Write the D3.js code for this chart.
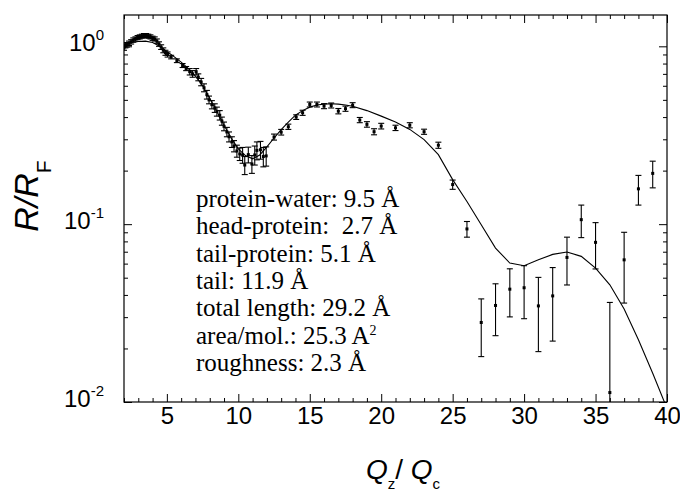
<!DOCTYPE html>
<html>
<head>
<meta charset="utf-8">
<script src="https://cdn.jsdelivr.net/npm/d3@7/dist/d3.min.js"></script>
<style>
  html, body { margin: 0; padding: 0; background: #fff; }
  svg { display: block; }
  .pre { white-space: pre; }
</style>
</head>
<body>
<svg id="chart" width="680" height="492"></svg>
<script>
// Measured reflectivity normalised to Fresnel, R/R_F vs Q_z/Q_c
const qData = [2.0, 2.1, 2.2, 2.35, 2.5, 2.65, 2.8, 2.95, 3.1, 3.25, 3.4, 3.55, 3.7, 3.85, 4.0,
  4.15, 4.3, 4.45, 4.6, 4.75, 4.9, 5.05, 5.3, 5.7, 6.1, 6.35, 6.6, 6.8, 7.05, 7.2, 7.4, 7.6,
  7.8, 7.95, 8.15, 8.35, 8.5, 8.7, 8.85, 9.0, 9.2, 9.35, 9.55, 9.7, 9.9, 10.1, 10.3, 10.45,
  10.7, 10.95, 11.15, 11.3, 11.55, 11.75, 11.95, 12.5, 13.0, 13.5, 14.05, 14.5, 15.0, 15.5,
  16.0, 16.5, 17.0, 17.5, 18.0, 18.5, 19.0, 19.5, 20.0, 21.0, 22.0, 23.0, 24.0, 25.0, 26.0,
  27.0, 28.0, 29.0, 30.0, 31.0, 32.0, 33.0, 34.0, 35.0, 36.0, 37.0, 38.0, 39.0];
const rData = [0.98, 1.01, 1.02, 1.04, 1.06, 1.085, 1.10, 1.12, 1.13, 1.14, 1.15, 1.15, 1.14, 1.13, 1.11,
  1.10, 1.07, 1.03, 0.99, 0.95, 0.92, 0.90, 0.87, 0.83, 0.78, 0.75, 0.72, 0.70, 0.72, 0.67, 0.63, 0.585,
  0.535, 0.50, 0.47, 0.45, 0.43, 0.41, 0.38, 0.355, 0.33, 0.31, 0.29, 0.275, 0.258, 0.248, 0.245, 0.215,
  0.246, 0.218, 0.245, 0.26, 0.262, 0.24, 0.242, 0.309, 0.329, 0.353, 0.40, 0.423, 0.471, 0.471,
  0.461, 0.465, 0.432, 0.446, 0.467, 0.385, 0.364, 0.331, 0.356, 0.348, 0.360, 0.331, 0.278, 0.167, 0.094,
  0.028, 0.0349, 0.0431, 0.0439, 0.0347, 0.0395, 0.065, 0.106, 0.079, 0.0113, 0.063, 0.158, 0.193];
const rErr = [0.03, 0.03, 0.03, 0.03, 0.03, 0.03, 0.03, 0.03, 0.03, 0.03, 0.03, 0.03, 0.03, 0.03, 0.03,
  0.03, 0.03, 0.03, 0.03, 0.03, 0.03, 0.03, 0.02, 0.02, 0.02, 0.02, 0.03, 0.03, 0.03, 0.03, 0.03, 0.03,
  0.03, 0.025, 0.025, 0.025, 0.025, 0.025, 0.02, 0.02, 0.02, 0.02, 0.02, 0.02, 0.02, 0.02, 0.025, 0.025,
  0.025, 0.025, 0.03, 0.03, 0.03, 0.03, 0.03, 0.012, 0.012, 0.012, 0.012, 0.014, 0.015, 0.015,
  0.015, 0.015, 0.015, 0.015, 0.015, 0.013, 0.013, 0.013, 0.013, 0.012, 0.012, 0.011, 0.011, 0.01, 0.0095,
  0.010, 0.0113, 0.013, 0.0145, 0.0155, 0.0175, 0.0195, 0.022, 0.023, 0.025, 0.027, 0.03, 0.033];

// Model fit curve
const qFit = [2.0, 2.5, 3.0, 3.5, 4.0, 4.5, 5.0, 5.5, 6.0, 6.5, 7.0, 7.5, 8.0, 8.5, 9.0, 9.5, 10.0,
  10.5, 11.0, 11.5, 12.0, 12.5, 13.0, 13.5, 14.0, 14.5, 15.0, 15.5, 16.0, 16.5, 17.0, 17.5, 18.0,
  19.0, 20.0, 21.0, 22.0, 23.0, 24.0, 25.0, 26.0, 27.0, 28.0, 29.0, 30.0, 31.0, 32.0, 33.0, 34.0,
  35.0, 36.0, 37.0, 38.0, 39.0, 40.0];
const rFit = [1.02, 1.05, 1.065, 1.07, 1.05, 1.0, 0.935, 0.875, 0.815, 0.75, 0.68, 0.60, 0.51, 0.43,
  0.36, 0.305, 0.265, 0.243, 0.233, 0.245, 0.272, 0.305, 0.34, 0.375, 0.41, 0.435, 0.455, 0.468,
  0.473, 0.475, 0.473, 0.468, 0.46, 0.435, 0.405, 0.375, 0.341, 0.299, 0.246, 0.178, 0.134, 0.0993,
  0.0734, 0.0604, 0.0584, 0.063, 0.0676, 0.0697, 0.0659, 0.0566, 0.0456, 0.0333, 0.0224, 0.0145, 0.0092];

const xMajor = [5, 10, 15, 20, 25, 30, 35, 40];
const yMajor = [1, 0.1, 0.01];
const yMajorExp = ["0", "-1", "-2"];

const fitLines = [
  "protein-water: 9.5 Å",
  "head-protein:  2.7 Å",
  "tail-protein: 5.1 Å",
  "tail: 11.9 Å",
  "total length: 29.2 Å",
  "area/mol.: 25.3 A",
  "roughness: 2.3 Å"
];

const svg = d3.select("#chart");
const W = 680, H = 492;
const m = { left: 124, right: 13, top: 15, bottom: 90 };
const x0 = m.left, x1 = W - m.right, y0 = m.top, y1 = H - m.bottom;

const x = d3.scaleLinear().domain([2, 40]).range([x0, x1]);
const y = d3.scaleLog().domain([0.01, 1.5]).range([y1, y0]);

const xMinor = d3.range(2, 41, 1).filter(v => v % 5 !== 0);
const yMinor = [];
[0.01, 0.1, 1].forEach(d => { for (let k = 2; k <= 9; k++) { const v = d * k; if (v <= 1.5) yMinor.push(v); } });

svg.append("defs").append("clipPath").attr("id", "plotclip")
  .append("rect").attr("x", x0).attr("y", y0).attr("width", x1 - x0).attr("height", y1 - y0);

const axisStyle = g => {
  g.select(".domain").remove();
  g.selectAll(".tick line").attr("stroke", "#000").attr("stroke-width", 1);
};

// inward ticks on all four sides
svg.append("g").attr("transform", `translate(0,${y1})`)
  .call(d3.axisBottom(x).tickValues(xMinor).tickSize(-4).tickFormat("")).call(axisStyle);
svg.append("g").attr("transform", `translate(0,${y1})`)
  .call(d3.axisBottom(x).tickValues(xMajor).tickSize(-8).tickPadding(5).tickFormat(d3.format("d")))
  .call(axisStyle)
  .call(g => g.selectAll("text").attr("font-family", "Liberation Sans, Arial, sans-serif")
    .attr("font-size", 24).attr("fill", "#000"));
svg.append("g").attr("transform", `translate(0,${y0})`)
  .call(d3.axisTop(x).tickValues(xMinor).tickSize(-4).tickFormat("")).call(axisStyle);
svg.append("g").attr("transform", `translate(0,${y0})`)
  .call(d3.axisTop(x).tickValues(xMajor).tickSize(-8).tickFormat("")).call(axisStyle);
svg.append("g").attr("transform", `translate(${x0},0)`)
  .call(d3.axisLeft(y).tickValues(yMinor).tickSize(-4).tickFormat("")).call(axisStyle);
svg.append("g").attr("transform", `translate(${x0},0)`)
  .call(d3.axisLeft(y).tickValues(yMajor).tickSize(-8).tickFormat("")).call(axisStyle);
svg.append("g").attr("transform", `translate(${x1},0)`)
  .call(d3.axisRight(y).tickValues(yMinor).tickSize(-4).tickFormat("")).call(axisStyle);
svg.append("g").attr("transform", `translate(${x1},0)`)
  .call(d3.axisRight(y).tickValues(yMajor).tickSize(-8).tickFormat("")).call(axisStyle);

// frame
svg.append("rect").attr("x", x0).attr("y", y0).attr("width", x1 - x0).attr("height", y1 - y0)
  .attr("fill", "none").attr("stroke", "#000").attr("stroke-width", 1.2);

// y tick labels 10^n
const yl = svg.append("g").attr("font-family", "Liberation Sans, Arial, sans-serif").attr("fill", "#000");
yMajor.forEach((v, i) => {
  const t = yl.append("text").attr("x", 104).attr("y", y(v) + 5).attr("text-anchor", "end")
    .attr("font-size", 24);
  t.append("tspan").text("10");
  t.append("tspan").attr("font-size", 15).attr("dy", -11).text(yMajorExp[i]);
});

// fit curve
const plot = svg.append("g").attr("clip-path", "url(#plotclip)");
const fitData = qFit.map((q, i) => [q, rFit[i]]);
plot.append("path").datum(fitData)
  .attr("fill", "none").attr("stroke", "#000").attr("stroke-width", 1.1)
  .attr("d", d3.line().x(d => x(d[0])).y(d => y(d[1])));

// data with error bars
const pts = qData.map((q, i) => ({ q, r: rData[i], e: rErr[i] }));
const yClamp = v => (v <= 0.0001 ? y1 + 10 : y(v));
const cap = 3;
const eb = plot.append("g").attr("stroke", "#000").attr("stroke-width", 1.1);
pts.forEach(d => {
  const cx = x(d.q), top = y(d.r + d.e), bot = yClamp(d.r - d.e);
  eb.append("line").attr("x1", cx).attr("x2", cx).attr("y1", top).attr("y2", bot);
  eb.append("line").attr("x1", cx - cap).attr("x2", cx + cap).attr("y1", top).attr("y2", top);
  eb.append("line").attr("x1", cx - cap).attr("x2", cx + cap).attr("y1", bot).attr("y2", bot);
});
plot.append("g").selectAll("rect").data(pts).join("rect")
  .attr("x", d => x(d.q) - 1.5).attr("y", d => y(d.r) - 1.5)
  .attr("width", 3).attr("height", 3).attr("fill", "#000");

// fit parameters
const ann = svg.append("g").attr("font-family", "Liberation Serif, Times New Roman, serif")
  .attr("font-size", 25).attr("fill", "#000");
fitLines.forEach((s, i) => {
  const t = ann.append("text").attr("class", "pre").attr("x", 196).attr("y", 207 + i * 27.3);
  t.append("tspan").text(s);
  if (s.startsWith("area")) t.append("tspan").attr("font-size", 14).attr("dy", -9).text("2");
});

// axis titles
const yt = svg.append("text").attr("transform", "translate(38,196) rotate(-90)")
  .attr("text-anchor", "middle").attr("font-family", "Liberation Sans, Arial, sans-serif")
  .attr("font-size", 34).attr("fill", "#000");
yt.append("tspan").attr("font-style", "italic").text("R/R");
yt.append("tspan").attr("font-size", 21).attr("dy", 13).text("F");

const xt = svg.append("text").attr("x", 403).attr("y", 479)
  .attr("text-anchor", "middle").attr("font-family", "Liberation Sans, Arial, sans-serif")
  .attr("font-size", 28).attr("fill", "#000");
xt.append("tspan").attr("font-style", "italic").text("Q");
xt.append("tspan").attr("font-size", 15).attr("dy", 10).text("z");
xt.append("tspan").attr("class", "pre").attr("dy", -10).text("/ ");
xt.append("tspan").attr("font-style", "italic").text("Q");
xt.append("tspan").attr("font-size", 15).attr("dy", 10).text("c");
</script>
</body>
</html>
